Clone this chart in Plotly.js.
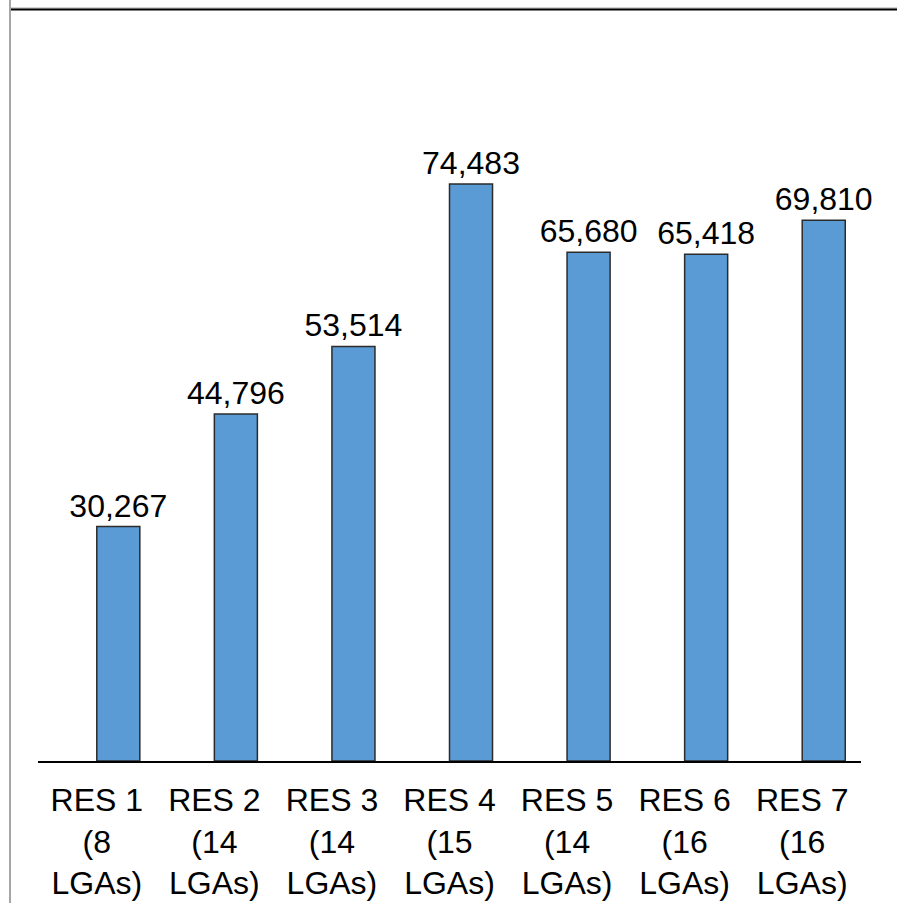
<!DOCTYPE html>
<html>
<head>
<meta charset="utf-8">
<script src="https://cdn.plot.ly/plotly-3.0.1.min.js"></script>
<style>
  html, body { margin: 0; padding: 0; background: #fff; }
  #chart { width: 897px; height: 903px; }
</style>
</head>
<body>
<div id="chart"></div>
<script>
const categories = [
  "RES 1<br>(8<br>LGAs)",
  "RES 2<br>(14<br>LGAs)",
  "RES 3<br>(14<br>LGAs)",
  "RES 4<br>(15<br>LGAs)",
  "RES 5<br>(14<br>LGAs)",
  "RES 6<br>(16<br>LGAs)",
  "RES 7<br>(16<br>LGAs)"
];
const values = [30267, 44796, 53514, 74483, 65680, 65418, 69810];
const valueLabels = values.map(v => v.toLocaleString("en-US"));

// plot area in pixels (for frame decoration)
const W = 897, H = 903;
const mL = 38, mR = 36, mT = 10, mB = 142;
const pw = W - mL - mR, ph = H - mT - mB;
const px = x => (x - mL) / pw;
const py = y => (H - mB - y) / ph;

const trace = {
  type: "bar",
  x: categories,
  y: values,
  text: valueLabels,
  textposition: "outside",
  constraintext: "none",
  cliponaxis: false,
  width: 0.366,
  offset: 0,
  textfont: { family: "Liberation Sans, Arial, sans-serif", size: 32, color: "#000" },
  marker: { color: "#5B9BD5", line: { color: "#2b2b2b", width: 1.5 } },
  hoverinfo: "skip"
};

const layout = {
  width: W, height: H,
  margin: { l: mL, r: mR, t: mT, b: mB, pad: 0 },
  paper_bgcolor: "#fff",
  plot_bgcolor: "#fff",
  showlegend: false,
  font: { family: "Liberation Sans, Arial, sans-serif", color: "#000" },
  xaxis: {
    showline: true, linecolor: "#000", linewidth: 1.5,
    ticks: "", showgrid: false, zeroline: false,
    tickfont: { size: 32, color: "#000" },
    ticklabelstandoff: 10,
    tickangle: 0
  },
  yaxis: {
    range: [0, 96944],
    visible: false, showgrid: false, zeroline: false
  },
  shapes: [
    { type: "line", xref: "paper", yref: "paper", x0: px(10), x1: px(10), y0: py(0), y1: py(H), line: { color: "#a6a6a6", width: 2 } },
    { type: "line", xref: "paper", yref: "paper", x0: px(10), x1: px(W), y0: py(8), y1: py(8), line: { color: "#a6a6a6", width: 1 } },
    { type: "line", xref: "paper", yref: "paper", x0: px(11), x1: px(W), y0: py(9.5), y1: py(9.5), line: { color: "#000", width: 2 } }
  ]
};

Plotly.newPlot("chart", [trace], layout, { displayModeBar: false, staticPlot: true });
</script>
</body>
</html>
